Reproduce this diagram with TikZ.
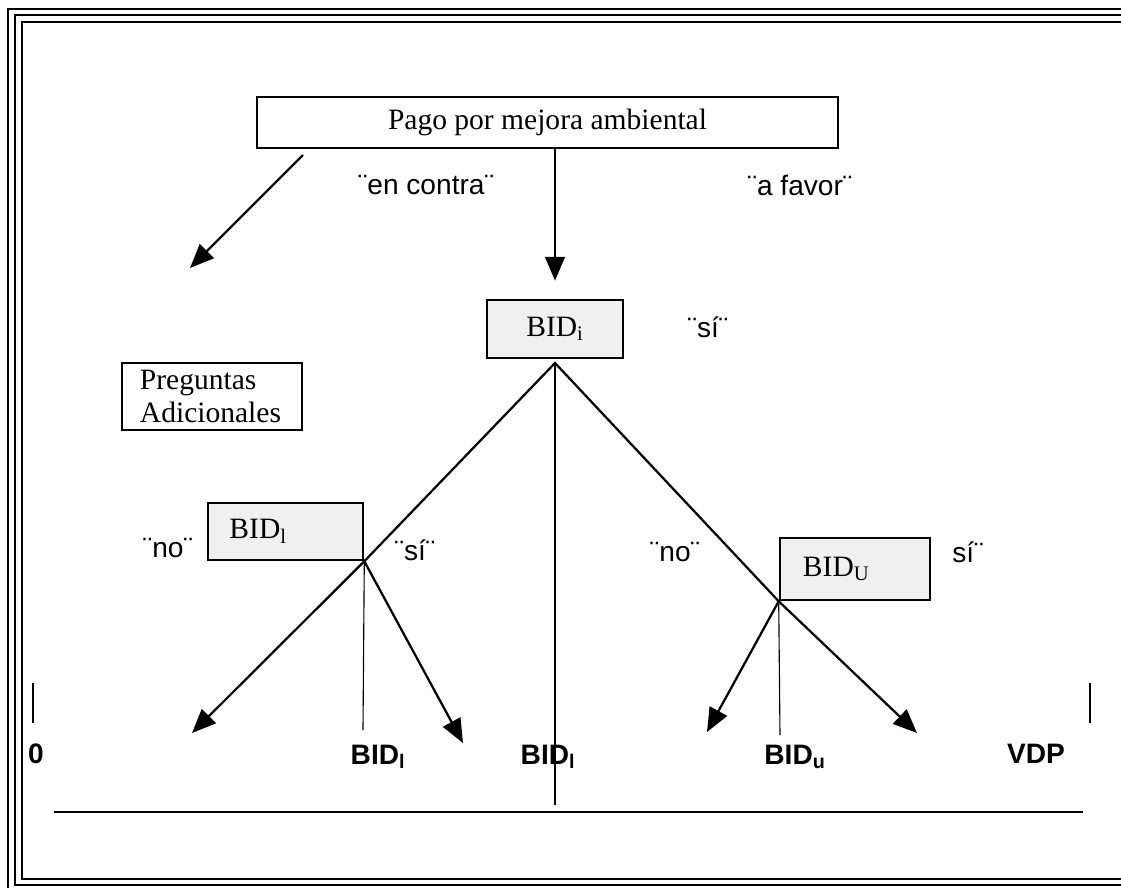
\documentclass[tikz,border=0pt]{standalone}
\usepackage{fontspec}
\setmainfont{Liberation Serif}
\setsansfont{Liberation Sans}
\usetikzlibrary{arrows.meta}
\tikzset{
  box/.style={draw, line width=1.8pt, inner sep=0pt, font=\fontsize{21}{24}\selectfont},
  bidbox/.style={box, fill=gray!12},
  lbl/.style={font=\sffamily\fontsize{20}{24}\selectfont},
  axislbl/.style={font=\sffamily\bfseries\fontsize{20}{24}\selectfont},
  arr/.style={line width=1.6pt, -{Triangle[length=17pt,width=14pt]}},
  branch/.style={line width=1.6pt},
  thinline/.style={line width=0.8pt}
}
\begin{document}
\begin{tikzpicture}[x=0.025cm, y=-0.025cm]
    \useasboundingbox (0,0) rectangle (1121,888);
    \clip (0,0) rectangle (1121,888);
    % Frame
    \draw[line width=1.6pt] (8,9) rectangle (1150,892);
    \draw[line width=1.4pt] (15,15) rectangle (1150,885);
    \draw[line width=0.9pt] (22,22) rectangle (1150,879);

    % Boxes
    \node[box, minimum width=14.525cm, minimum height=1.275cm] (pago) at (547.5,122.5) {Pago por mejora ambiental};
    \node[bidbox, minimum width=3.4cm, minimum height=1.45cm] (bidi) at (555,329) {BID\textsubscript{i}};
    \node[box, minimum width=4.5cm, minimum height=1.675cm, text width=3.6cm, align=left] (preg) at (212,396.5) {Preguntas\\Adicionales};
    \node[bidbox, minimum width=3.875cm, minimum height=1.425cm, text width=2.8cm, align=left] (bidl) at (285.5,531.5) {BID\textsubscript{l}};
    \node[bidbox, minimum width=3.75cm, minimum height=1.55cm, text width=2.6cm, align=left] (bidu) at (855,569) {BID\textsubscript{U}};

    \coordinate (contra0) at (303,155);
    \coordinate (contra1) at (190,268);
    \coordinate (apex) at (555,363);
    \coordinate (midend) at (555,805);
    \coordinate (l1) at (192,733);
    \coordinate (l2) at (363,730);
    \coordinate (l3) at (463,743);
    \coordinate (u1) at (707,732);
    \coordinate (u2) at (780,735);
    \coordinate (u3) at (917,733);

    % Connectors
    \draw[arr] (contra0) -- (contra1);
    \draw[arr, shorten >=0.45cm] (pago.south -| bidi) -- (bidi.north);
    \draw[branch] (bidl.south east) -- (apex) -- (bidu.south west);
    \draw[thinline] (apex) -- (midend);
    \draw[arr] (bidl.south east) -- (l1);
    \draw[thinline] (bidl.south east) -- (l2);
    \draw[arr] (bidl.south east) -- (l3);
    \draw[arr] (bidu.south west) -- (u1);
    \draw[thinline] (bidu.south west) -- (u2);
    \draw[arr] (bidu.south west) -- (u3);

    % Answers
    \node[lbl] (contra) at (426,185) {¨en contra¨};
    \node[lbl] (favor) at (800,185) {¨a favor¨};
    \node[lbl] (si1) at (708,327) {¨sí¨};
    \node[lbl] (no1) at (168,548) {¨no¨};
    \node[lbl] (si2) at (415,550) {¨sí¨};
    \node[lbl] (no2) at (675,552) {¨no¨};
    \node[lbl] (si3) at (968,552) {sí¨};

    % Scale
    \draw[thinline] (33,683) -- (33,723);
    \draw[thinline] (1090,683) -- (1090,723);
    \node[axislbl] (zero) at (36,754) {0};
    \node[axislbl] (bidla) at (378,757) {BID\textsubscript{l}};
    \node[axislbl] (bidlb) at (548,757) {BID\textsubscript{l}};
    \node[axislbl] (bidub) at (795,757) {BID\textsubscript{u}};
    \node[axislbl] (vdp) at (1036,754) {VDP};
    \draw[line width=1pt] (54,812) -- (1083,812);
\end{tikzpicture}
\end{document}
